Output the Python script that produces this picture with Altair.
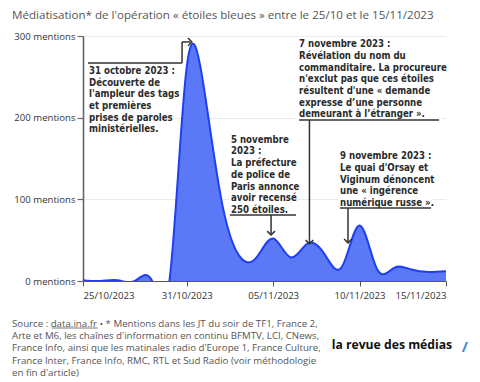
import altair as alt
import pandas as pd

# ---------------- data ----------------
dates = [
    "2023-10-25", "2023-10-26", "2023-10-27", "2023-10-28", "2023-10-29",
    "2023-10-30", "2023-10-31", "2023-11-01", "2023-11-02", "2023-11-03",
    "2023-11-04", "2023-11-05", "2023-11-06", "2023-11-07", "2023-11-08",
    "2023-11-09", "2023-11-10", "2023-11-11", "2023-11-12", "2023-11-13",
    "2023-11-14", "2023-11-15",
]
mentions = [1, 0, 1, 0, 0, 0, 262, 236, 100, 32, 28, 52, 29, 46, 32, 18, 68, 15, 16, 14, 11, 12]

x_ticks = ["2023-10-25", "2023-10-31", "2023-11-05", "2023-11-10", "2023-11-15"]
y_ticks = [0, 100, 200, 300]

title_text = "Médiatisation* de l'opération « étoiles bleues » entre le 25/10 et le 15/11/2023"
footer_lines = [
    "Source : data.ina.fr • * Mentions dans les JT du soir de TF1, France 2,",
    "Arte et M6, les chaînes d'information en continu BFMTV, LCI, CNews,",
    "France Info, ainsi que les matinales radio d'Europe 1, France Culture,",
    "France Inter, France Info, RMC, RTL et Sud Radio (voir méthodologie",
    "en fin d'article)",
]
brand = "la revue des médias"

note1 = ["31 octobre 2023 :", "Découverte de", "l'ampleur des tags", "et premières",
         "prises de paroles", "ministérielles."]
note2 = ["5 novembre", "2023 :", "La préfecture", "de police de", "Paris annonce",
         "avoir recensé", "250 étoiles."]
note3 = ["7 novembre 2023 :", "Révélation du nom du", "commanditaire. La procureure",
         "n'exclut pas que ces étoiles", "résultent d'une « demande",
         "expresse d’une personne", "demeurant à l’étranger »."]
note4 = ["9 novembre 2023 :", "Le quai d'Orsay et", "Viginum dénoncent",
         "une « ingérence", "numérique russe »."]

# ---------------- helpers ----------------
BASE = pd.Timestamp("2023-10-25")


def day(d):
    return (BASE + pd.Timedelta(days=d)).strftime("%Y-%m-%dT%H:%M:%SZ")


def utc_dt(s):
    t = pd.Timestamp(s)
    return alt.DateTime(year=t.year, month=t.month, date=t.day, utc=True)


FONT = "Open Sans"
NOTE_FONT = "DejaVu Sans Condensed"
W, H = 363, 245

df = pd.DataFrame({"date": [d + "T00:00:00Z" for d in dates], "mentions": mentions})

x_scale = alt.Scale(type="utc", domain=[utc_dt(dates[0]), utc_dt(dates[-1])], nice=False)
y_scale = alt.Scale(domain=[0, 300], nice=False)

x_axis = alt.Axis(
    values=[utc_dt(t) for t in x_ticks],
    labelExpr="utcFormat(datum.value, '%d/%m/%Y')",
    title=None, grid=False, domainColor="#555", domainWidth=1.2,
    tickColor="#555", tickSize=5, labelFont=FONT, labelFontSize=9.6,
    labelColor="#333", labelPadding=4,
)
y_axis = alt.Axis(
    values=y_ticks, labelExpr="datum.value + ' mentions'", title=None,
    grid=True, gridColor="#ececec", domainColor="#666", domainWidth=1.6,
    tickColor="#666", tickSize=6, tickWidth=1.2, labelFont=FONT, labelFontSize=9.6,
    labelColor="#333", labelPadding=2,
)


def X(field, **kw):
    return alt.X(field, scale=x_scale, title=None, **kw)


def Y(field, **kw):
    return alt.Y(field, scale=y_scale, title=None, **kw)


area = alt.Chart(df).mark_area(
    interpolate="natural", clip=True, color="#5b78f7", opacity=1,
    line={"color": "#1e40f2", "strokeWidth": 2},
).encode(
    x=X("date:T", axis=x_axis),
    y=Y("mentions:Q", axis=y_axis),
)

# white boxes behind annotation texts (hide gridlines)
boxes = pd.DataFrame({
    "date": [day(0.23), day(8.45), day(12.38), day(14.75)],
    "date2": [day(5.3), day(12.38), day(20.71), day(20.25)],
    "mentions": [265.7, 180, 296.3, 160.4],
    "mentions2": [181.2, 79.6, 195.9, 88.2],
})
box_layer = alt.Chart(boxes).mark_rect(color="white").encode(
    x=X("date:T"), x2="date2:T", y=Y("mentions:Q"), y2="mentions2:Q",
)

segs = pd.DataFrame({
    "date": [day(0.29), day(5.73), day(5.73), day(8.5), day(10.88), day(12.5), day(13.1), day(14.87), day(15.33)],
    "date2": [day(5.73), day(5.73), day(6.2), day(12.32), day(10.88), day(20.6), day(13.1), day(20.13), day(15.33)],
    "mentions": [266.9, 266.9, 292.7, 80.8, 80.8, 197.1, 197.1, 89.4, 89.4],
    "mentions2": [266.9, 292.7, 292.7, 80.8, 56.8, 197.1, 46.0, 89.4, 47.2],
})
seg_layer = alt.Chart(segs).mark_rule(color="#333", strokeWidth=1.5).encode(
    x=X("date:T"), x2="date2:T", y=Y("mentions:Q"), y2="mentions2:Q",
)

heads_down = pd.DataFrame({"date": [day(10.88), day(13.1), day(15.33)], "mentions": [56.3, 45.5, 46.7]})
heads_right = pd.DataFrame({"date": [day(6.3)], "mentions": [292.7]})
head_down = alt.Chart(heads_down).mark_point(
    shape="M-1,-1L0,0L1,-1", filled=False, color="#333", strokeWidth=1.5, size=60, opacity=1,
).encode(x=X("date:T"), y=Y("mentions:Q"))
head_right = alt.Chart(heads_right).mark_point(
    shape="M-1,-1L0,0L-1,1", filled=False, color="#333", strokeWidth=1.5, size=60, opacity=1,
).encode(x=X("date:T"), y=Y("mentions:Q"))


def note_layer(lines, d, v):
    return alt.Chart(pd.DataFrame({"date": [day(d)], "mentions": [v]})).mark_text(
        text=lines, align="left", baseline="alphabetic", font=NOTE_FONT, fontSize=9.6,
        fontWeight="bold", color="#2b2b2b", lineHeight=11.7,
    ).encode(x=X("date:T"), y=Y("mentions:Q"))


notes = [
    note_layer(note1, 0.35, 253.5),
    note_layer(note2, 8.56, 169.3),
    note_layer(note3, 12.5, 286.2),
    note_layer(note4, 14.87, 149.0),
]

one = pd.DataFrame({"a": [0]})
title_layer = alt.Chart(one).mark_text(
    text=title_text, align="left", baseline="alphabetic", font=FONT, fontSize=11.6, color="#555",
).encode(x=alt.value(-71), y=alt.value(-16.8))
footer_layer = alt.Chart(one).mark_text(
    text=footer_lines, align="left", baseline="alphabetic", font=FONT, fontSize=9.7,
    color="#555", lineHeight=12.4,
).encode(x=alt.value(-71), y=alt.value(290.5))
footer_ul = alt.Chart(one).mark_rule(color="#555", strokeWidth=0.8).encode(
    x=alt.value(-31.3), x2=alt.value(14.7), y=alt.value(292), y2=alt.value(292))
brand_layer = alt.Chart(one).mark_text(
    text=brand, align="left", baseline="alphabetic", font=FONT, fontSize=12.2,
    fontWeight="bold", color="#111",
).encode(x=alt.value(248.7), y=alt.value(313.3))
slash_layer = alt.Chart(one).mark_text(
    text="/", align="left", baseline="alphabetic", font=FONT, fontSize=15,
    fontWeight="bold", color="#3a8ad0",
).encode(x=alt.value(378.7), y=alt.value(315.5))

chart = alt.layer(
    box_layer, area, seg_layer, head_down, head_right, *notes,
    title_layer, footer_layer, footer_ul, brand_layer, slash_layer,
).properties(
    width=W, height=H, autosize="none",
    padding={"left": 75, "top": 28, "right": 26, "bottom": 100},
).configure_view(stroke=None)

chart.save("out.html", embed_options={"renderer": "svg", "actions": False})
